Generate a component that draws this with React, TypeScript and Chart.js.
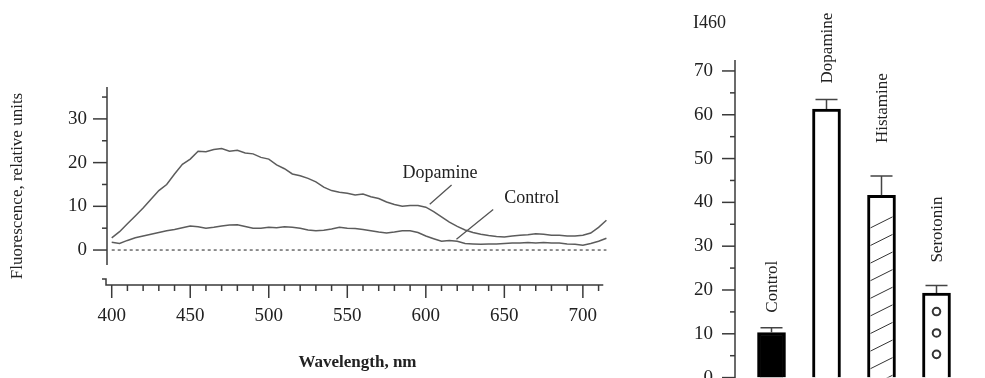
import React, { useEffect, useRef } from 'react';
import { Chart, registerables } from 'chart.js';

Chart.register(...registerables);

// ---------- Spectrum data (left panel) ----------
const wavelengths = [
  400, 405, 410, 415, 420, 425, 430, 435, 440, 445,
  450, 455, 460, 465, 470, 475, 480, 485, 490, 495,
  500, 505, 510, 515, 520, 525, 530, 535, 540, 545,
  550, 555, 560, 565, 570, 575, 580, 585, 590, 595,
  600, 605, 610, 615, 620, 625, 630, 635, 640, 645,
  650, 655, 660, 665, 670, 675, 680, 685, 690, 695,
  700, 705, 710, 715,
];
const dopamineSpectrum = [
  2.8, 4.2, 6.0, 7.8, 9.6, 11.6, 13.6, 15.0, 17.4, 19.6,
  20.8, 22.6, 22.5, 23.0, 23.2, 22.6, 22.8, 22.2, 22.0, 21.2,
  20.8, 19.5, 18.6, 17.4, 17.0, 16.4, 15.6, 14.4, 13.6, 13.2,
  13.0, 12.6, 12.8, 12.2, 11.8, 11.0, 10.4, 10.0, 10.2, 10.2,
  9.8, 8.8, 7.6, 6.4, 5.4, 4.6, 4.0, 3.6, 3.3, 3.1,
  3.0, 3.2, 3.4, 3.5, 3.7, 3.6, 3.4, 3.4, 3.2, 3.2,
  3.4, 3.9, 5.2, 6.8,
];
const controlSpectrum = [
  1.8, 1.5, 2.2, 2.8, 3.2, 3.6, 4.0, 4.4, 4.7, 5.1,
  5.5, 5.3, 5.0, 5.2, 5.5, 5.7, 5.8, 5.4, 5.0, 5.0,
  5.2, 5.1, 5.3, 5.2, 5.0, 4.6, 4.4, 4.5, 4.8, 5.2,
  5.0, 4.9, 4.7, 4.4, 4.1, 3.9, 4.1, 4.4, 4.4, 4.0,
  3.2, 2.6, 2.0, 2.2, 2.0, 1.5, 1.4, 1.3, 1.4, 1.4,
  1.5, 1.6, 1.6, 1.7, 1.6, 1.7, 1.6, 1.6, 1.4, 1.3,
  1.1, 1.5, 2.0, 2.7,
];
const spectrumXTicks = [400, 450, 500, 550, 600, 650, 700];
const spectrumYTicks = [0, 10, 20, 30];
const spectrumXTitle = 'Wavelength, nm';
const spectrumYTitle = 'Fluorescence, relative units';

// ---------- Bar data (right panel) ----------
const barCategories = ['Control', 'Dopamine', 'Histamine', 'Serotonin'];
const barValues = [10.3, 61.3, 41.6, 19.3];
const barErrors = [1.1, 2.2, 4.4, 1.7];
const barYTicks = [0, 10, 20, 30, 40, 50, 60, 70];
const barTitle = 'I460';

// ---------- Styles ----------
const SERIF = '"Liberation Serif", "DejaVu Serif", serif';
const TEXT = '#222222';
const AXIS = '#3a3a3a';
const CURVE = '#5c5c5c';

const leftDecor = {
  id: 'leftDecor',
  beforeDatasetsDraw(chart: any) {
    const { ctx, scales } = chart;
    const x = scales.x;
    const y = scales.y;
    const y0 = y.getPixelForValue(0);
    ctx.save();
    ctx.strokeStyle = '#555';
    ctx.lineWidth = 1.3;
    ctx.setLineDash([3, 3]);
    ctx.beginPath();
    ctx.moveTo(x.getPixelForValue(400), y0);
    ctx.lineTo(x.getPixelForValue(715), y0);
    ctx.stroke();
    ctx.restore();
  },
  afterDraw(chart: any) {
    const { ctx, scales, chartArea } = chart;
    const x = scales.x;
    const y = scales.y;
    ctx.save();
    ctx.strokeStyle = AXIS;
    ctx.lineWidth = 1.5;
    // y axis line
    const ax = chartArea.left;
    ctx.beginPath();
    ctx.moveTo(ax, y.getPixelForValue(37.3));
    ctx.lineTo(ax, y.getPixelForValue(-3.4));
    ctx.stroke();
    for (let v = 0; v <= 35; v += 5) {
      const py = y.getPixelForValue(v);
      const len = v % 10 === 0 ? 14 : 5;
      ctx.beginPath();
      ctx.moveTo(ax - len, py);
      ctx.lineTo(ax, py);
      ctx.stroke();
    }
    // x axis line with hook
    const ay = chartArea.bottom;
    ctx.beginPath();
    ctx.moveTo(ax - 5, ay - 6);
    ctx.lineTo(ax - 1, ay - 6);
    ctx.lineTo(ax - 1, ay);
    ctx.lineTo(x.getPixelForValue(713), ay);
    ctx.stroke();
    for (let v = 400; v <= 710; v += 10) {
      const px = x.getPixelForValue(v);
      const len = v % 50 === 0 ? 13 : 6;
      ctx.beginPath();
      ctx.moveTo(px, ay);
      ctx.lineTo(px, ay + len);
      ctx.stroke();
    }
    // annotations
    ctx.lineWidth = 1.3;
    ctx.strokeStyle = '#555';
    ctx.beginPath();
    ctx.moveTo(x.getPixelForValue(602.5), y.getPixelForValue(10.5));
    ctx.lineTo(x.getPixelForValue(616.4), y.getPixelForValue(14.9));
    ctx.moveTo(x.getPixelForValue(619.5), y.getPixelForValue(2.45));
    ctx.lineTo(x.getPixelForValue(642.9), y.getPixelForValue(9.3));
    ctx.stroke();
    ctx.fillStyle = TEXT;
    ctx.font = `18px ${SERIF}`;
    ctx.textAlign = 'center';
    ctx.textBaseline = 'middle';
    ctx.fillText('Dopamine', x.getPixelForValue(609), y.getPixelForValue(17.6));
    ctx.fillText('Control', x.getPixelForValue(667.5), y.getPixelForValue(11.9));
    ctx.restore();
  },
};

const labelGaps = [15, 16, 33, 23];

const rightDecor = {
  id: 'rightDecor',
  afterDraw(chart: any) {
    const { ctx, scales, chartArea } = chart;
    const y = scales.y;
    const meta = chart.getDatasetMeta(0);
    ctx.save();
    // y axis
    const ax = chartArea.left - 9;
    ctx.strokeStyle = AXIS;
    ctx.lineWidth = 1.5;
    ctx.beginPath();
    ctx.moveTo(ax, y.getPixelForValue(72.5));
    ctx.lineTo(ax, y.getPixelForValue(0) + 30);
    ctx.stroke();
    for (let v = 0; v <= 70; v += 5) {
      const py = y.getPixelForValue(v);
      const len = v % 10 === 0 ? 13 : 5;
      ctx.beginPath();
      ctx.moveTo(ax - len, py);
      ctx.lineTo(ax, py);
      ctx.stroke();
    }
    meta.data.forEach((bar: any, i: number) => {
      const p = bar.getProps(['x', 'y', 'width', 'base'], true);
      const left = p.x - p.width / 2 + 3;
      const right = p.x + p.width / 2 - 3;
      const top = p.y + 3;
      const bottom = p.base;
      // fill patterns
      if (i === 2 || i === 3) {
        ctx.save();
        ctx.beginPath();
        ctx.rect(left, top, right - left, bottom - top);
        ctx.clip();
        ctx.strokeStyle = '#333';
        if (i === 2) {
          ctx.lineWidth = 1;
          for (let yy = p.y + 33; yy < bottom + 20; yy += 17.6) {
            ctx.beginPath();
            ctx.moveTo(left - 1, yy);
            ctx.lineTo(right + 1, yy - 12);
            ctx.stroke();
          }
        } else {
          ctx.lineWidth = 2;
          for (let k = 0; k < 3; k++) {
            ctx.beginPath();
            ctx.arc(p.x, p.y + 18.5 + k * 21.4, 3.8, 0, Math.PI * 2);
            ctx.stroke();
          }
        }
        ctx.restore();
      }
      // error bar
      const ye = y.getPixelForValue(barValues[i] + barErrors[i]);
      ctx.strokeStyle = '#444';
      ctx.lineWidth = 1.5;
      ctx.beginPath();
      ctx.moveTo(p.x, p.y);
      ctx.lineTo(p.x, ye);
      ctx.moveTo(p.x - 11, ye);
      ctx.lineTo(p.x + 11, ye);
      ctx.stroke();
      // vertical label
      ctx.save();
      ctx.translate(p.x + 1, ye - labelGaps[i]);
      ctx.rotate(-Math.PI / 2);
      ctx.fillStyle = TEXT;
      ctx.font = `17px ${SERIF}`;
      ctx.textAlign = 'left';
      ctx.textBaseline = 'middle';
      ctx.fillText(barCategories[i], 0, 0);
      ctx.restore();
    });
    // panel title
    ctx.fillStyle = TEXT;
    ctx.font = `18px ${SERIF}`;
    ctx.textAlign = 'left';
    ctx.textBaseline = 'middle';
    ctx.fillText(barTitle, 693 - 660, 23);
    ctx.restore();
  },
};

export default function App() {
  const leftRef = useRef<HTMLCanvasElement>(null);
  const rightRef = useRef<HTMLCanvasElement>(null);

  useEffect(() => {
    const tickFont = { family: SERIF, size: 19 };
    const left = new Chart(leftRef.current as HTMLCanvasElement, {
      type: 'line',
      data: {
        datasets: [
          {
            label: 'Dopamine',
            data: wavelengths.map((w, i) => ({ x: w, y: dopamineSpectrum[i] })),
            borderColor: CURVE,
            borderWidth: 1.5,
            pointRadius: 0,
            tension: 0,
            fill: false,
          },
          {
            label: 'Control',
            data: wavelengths.map((w, i) => ({ x: w, y: controlSpectrum[i] })),
            borderColor: CURVE,
            borderWidth: 1.5,
            pointRadius: 0,
            tension: 0,
            fill: false,
          },
        ],
      },
      options: {
        animation: false,
        responsive: false,
        maintainAspectRatio: false,
        events: [],
        layout: { padding: { top: 87, right: 52, bottom: 0, left: 0 } },
        plugins: { legend: { display: false }, tooltip: { enabled: false } },
        scales: {
          x: {
            type: 'linear',
            min: 397,
            max: 716,
            afterBuildTicks: (s: any) => {
              s.ticks = spectrumXTicks.map((v) => ({ value: v }));
            },
            afterFit: (s: any) => {
              s.height = 93;
            },
            grid: { display: false, drawTicks: false },
            border: { display: false },
            ticks: { padding: 20, color: TEXT, font: tickFont, maxRotation: 0, autoSkip: false },
            title: {
              display: true,
              text: spectrumXTitle,
              color: TEXT,
              font: { family: SERIF, size: 17, weight: 'bold' },
              padding: { top: 0, bottom: 5 },
            },
          },
          y: {
            type: 'linear',
            min: -8,
            max: 37.3,
            afterBuildTicks: (s: any) => {
              s.ticks = spectrumYTicks.map((v) => ({ value: v }));
            },
            afterFit: (s: any) => {
              s.width = 107;
            },
            grid: { display: false, drawTicks: false },
            border: { display: false },
            ticks: { padding: 20, color: TEXT, font: tickFont },
            title: {
              display: true,
              text: spectrumYTitle,
              color: TEXT,
              font: { family: SERIF, size: 17 },
              padding: { top: 7, bottom: 0 },
            },
          },
        },
      },
      plugins: [leftDecor],
    } as any);

    const right = new Chart(rightRef.current as HTMLCanvasElement, {
      type: 'bar',
      data: {
        labels: barCategories,
        datasets: [
          {
            data: barValues,
            backgroundColor: ['#000000', '#ffffff', '#ffffff', '#ffffff'],
            borderColor: '#000000',
            borderWidth: 3,
            barThickness: 28,
            borderSkipped: 'start',
          },
        ],
      },
      options: {
        animation: false,
        responsive: false,
        maintainAspectRatio: false,
        events: [],
        layout: { padding: { top: 60, right: 21, bottom: 41.7, left: 0 } },
        plugins: { legend: { display: false }, tooltip: { enabled: false } },
        scales: {
          x: { display: false },
          y: {
            min: 0,
            max: 72.5,
            afterBuildTicks: (s: any) => {
              s.ticks = barYTicks.map((v) => ({ value: v }));
            },
            afterFit: (s: any) => {
              s.width = 84;
            },
            grid: { display: false, drawTicks: false },
            border: { display: false },
            ticks: { padding: 31, color: TEXT, font: { family: SERIF, size: 19 } },
          },
        },
      },
      plugins: [rightDecor],
    } as any);

    return () => {
      left.destroy();
      right.destroy();
    };
  }, []);

  return (
    <div
      style={{
        position: 'absolute',
        left: 0,
        top: 0,
        width: 985,
        height: 378,
        overflow: 'hidden',
        background: '#ffffff',
      }}
    >
      <canvas ref={leftRef} width={660} height={378} style={{ position: 'absolute', left: 0, top: 0 }} />
      <canvas ref={rightRef} width={325} height={420} style={{ position: 'absolute', left: 660, top: 0 }} />
    </div>
  );
}
